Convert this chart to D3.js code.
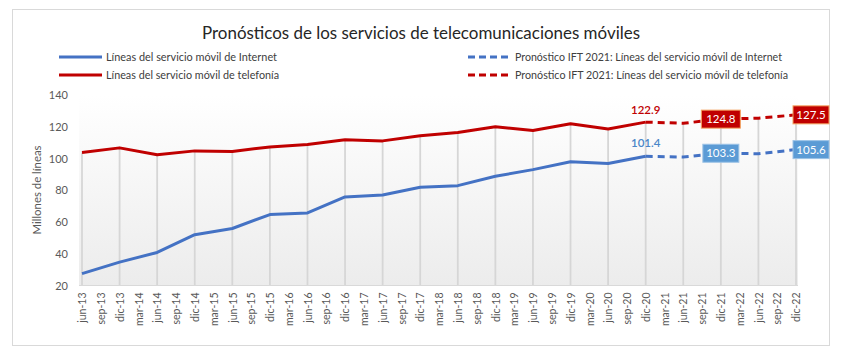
<!DOCTYPE html>
<html><head><meta charset="utf-8">
<script src="https://cdn.jsdelivr.net/npm/d3@7"></script>
<style>body{margin:0;background:#fff}svg{display:block}text{font-family:Lato,"Open Sans",sans-serif}</style>
</head><body>
<script>
const categories = ["jun-13","sep-13","dic-13",
 "mar-14","jun-14","sep-14","dic-14","mar-15","jun-15","sep-15","dic-15",
 "mar-16","jun-16","sep-16","dic-16","mar-17","jun-17","sep-17","dic-17",
 "mar-18","jun-18","sep-18","dic-18","mar-19","jun-19","sep-19","dic-19",
 "mar-20","jun-20","sep-20","dic-20","mar-21","jun-21","sep-21","dic-21",
 "mar-22","jun-22","sep-22","dic-22"];
const histPeriods = ["jun-13","dic-13","jun-14","dic-14","jun-15","dic-15","jun-16","dic-16",
 "jun-17","dic-17","jun-18","dic-18","jun-19","dic-19","jun-20","dic-20"];
const internet = [27.5,34.7,40.8,52.0,55.9,64.7,65.7,75.8,77.0,81.9,82.9,88.8,93.0,98.0,96.8,101.4];
const telefonia = [103.8,106.7,102.3,104.8,104.4,107.3,108.8,111.8,111.1,114.3,116.4,120.0,117.6,121.9,118.6,122.9];
const forecastPeriods = ["dic-20","jun-21","dic-21","jun-22","dic-22"];
const internetForecast = [101.4,100.9,103.3,103.0,105.6];
const telefoniaForecast = [122.9,122.2,124.8,125.4,127.5];
const yTicks = [20,40,60,80,100,120,140];

const W=846,H=362;
const svg=d3.select("body").append("svg").attr("width",W).attr("height",H);
svg.append("rect").attr("x",12.5).attr("y",9.5).attr("width",817).attr("height",336)
  .attr("fill","#fff").attr("stroke","#d9d9d9");

const x=d3.scalePoint().domain(categories).range([82,796]);
const y=d3.scaleLinear().domain([20,140]).range([285.5,95]);

const defs=svg.append("defs");
const g=defs.append("linearGradient").attr("id","bg").attr("x1",0).attr("y1",0).attr("x2",0).attr("y2",1);
g.append("stop").attr("offset","0%").attr("stop-color","#ffffff");
g.append("stop").attr("offset","100%").attr("stop-color","#ececec");
svg.append("rect").attr("x",79).attr("y",y(140)).attr("width",719).attr("height",y(20)-y(140)).attr("fill","url(#bg)");

// drop lines
const allP = histPeriods.concat(forecastPeriods.slice(1));
const allT = telefonia.concat(telefoniaForecast.slice(1));
svg.append("g").selectAll("line").data(allP).join("line")
  .attr("x1",d=>x(d)).attr("x2",d=>x(d)).attr("y1",(d,i)=>y(allT[i])).attr("y2",y(20))
  .attr("stroke","#d6d6d6").attr("stroke-width",1.8);

// x axis
const xAxis=svg.append("g").attr("transform",`translate(0,${y(20)})`)
  .call(d3.axisBottom(x).tickSize(0).tickPadding(0));
xAxis.select(".domain").attr("stroke","#d9d9d9").attr("d","M79,0H798");
xAxis.selectAll("text").attr("transform","rotate(-90)").attr("text-anchor","end")
  .attr("x",-7).attr("y",0).attr("dy","0.35em").attr("font-size",10.5).attr("fill","#595959")
  .style("font-family","Lato,sans-serif");

// y axis
const yAxis=svg.append("g").attr("transform","translate(68,0)")
  .call(d3.axisLeft(y).tickValues(yTicks).tickSize(0).tickPadding(0));
yAxis.select(".domain").remove();
yAxis.selectAll("text").attr("font-size",11).attr("fill","#595959").style("font-family","Lato,sans-serif");
svg.append("text").attr("transform","translate(41,190) rotate(-90)").attr("text-anchor","middle")
  .attr("font-size",11).attr("fill","#595959").attr("textLength",89).attr("lengthAdjust","spacingAndGlyphs")
  .text("Millones de líneas");

const line=d3.line().x(d=>x(d[0])).y(d=>y(d[1]));
const BLUE="#4472c4",RED="#c00000";
svg.append("path").datum(histPeriods.map((p,i)=>[p,internet[i]])).attr("d",line)
  .attr("fill","none").attr("stroke",BLUE).attr("stroke-width",3).attr("stroke-linejoin","round");
svg.append("path").datum(histPeriods.map((p,i)=>[p,telefonia[i]])).attr("d",line)
  .attr("fill","none").attr("stroke",RED).attr("stroke-width",3).attr("stroke-linejoin","round");
svg.append("path").datum(forecastPeriods.map((p,i)=>[p,internetForecast[i]])).attr("d",line)
  .attr("fill","none").attr("stroke",BLUE).attr("stroke-width",3).attr("stroke-dasharray","7,5");
svg.append("path").datum(forecastPeriods.map((p,i)=>[p,telefoniaForecast[i]])).attr("d",line)
  .attr("fill","none").attr("stroke",RED).attr("stroke-width",3).attr("stroke-dasharray","7,5");

// data labels
const last=histPeriods.length-1;
svg.append("text").attr("x",x(histPeriods[last])).attr("y",y(telefonia[last])-8)
  .attr("text-anchor","middle").attr("font-size",11.5).attr("font-weight",600).attr("fill",RED).text(telefonia[last].toFixed(1));
svg.append("text").attr("x",x(histPeriods[last])).attr("y",y(internet[last])-9)
  .attr("text-anchor","middle").attr("font-size",11.5).attr("font-weight",600).attr("fill","#4a86c8").text(internet[last].toFixed(1));

function box(p,v,fill,stroke,dx,w){
  const cx=x(p)+dx, cy=y(v);
  svg.append("rect").attr("x",cx-w/2).attr("y",cy-9).attr("width",w).attr("height",18)
    .attr("fill",fill).attr("stroke",stroke).attr("stroke-width",1);
  svg.append("text").attr("x",cx).attr("y",cy).attr("dy","0.36em").attr("text-anchor","middle")
    .attr("font-size",11.5).attr("fill","#fff").text(v.toFixed(1));
}
box("dic-21",telefoniaForecast[2],RED,"#f4a460",0,39);
box("dic-22",telefoniaForecast[4],RED,"#f4a460",15,36);
box("dic-21",internetForecast[2],"#5b9bd5","#9dc3e6",0,36);
box("dic-22",internetForecast[4],"#5b9bd5","#9dc3e6",15,36);

// title
svg.append("text").attr("x",202).attr("y",39).attr("font-size",17).attr("fill","#262626")
  .attr("textLength",438).attr("lengthAdjust","spacingAndGlyphs")
  .text("Pronósticos de los servicios de telecomunicaciones  móviles");

// legend
const legend=[
 {x:59,y:57,c:BLUE,dash:null,t:"Líneas del servicio móvil de Internet",w:171},
 {x:59,y:75,c:RED,dash:null,t:"Líneas del servicio móvil de telefonía",w:173},
 {x:468,y:57,c:BLUE,dash:"7,4",t:"Pronóstico IFT 2021: Líneas del servicio móvil de Internet",w:267},
 {x:468,y:75,c:RED,dash:"7,4",t:"Pronóstico IFT 2021: Líneas del servicio móvil de telefonía",w:273}];
const lg=svg.append("g").selectAll("g").data(legend).join("g");
lg.append("line").attr("x1",d=>d.x).attr("x2",d=>d.x+43).attr("y1",d=>d.y).attr("y2",d=>d.y)
  .attr("stroke",d=>d.c).attr("stroke-width",3).attr("stroke-dasharray",d=>d.dash);
lg.append("text").attr("x",d=>d.x+47).attr("y",d=>d.y).attr("dy","0.35em").attr("font-size",11)
  .attr("fill","#404040").attr("textLength",d=>d.w).attr("lengthAdjust","spacingAndGlyphs").text(d=>d.t);
</script>
</body></html>
